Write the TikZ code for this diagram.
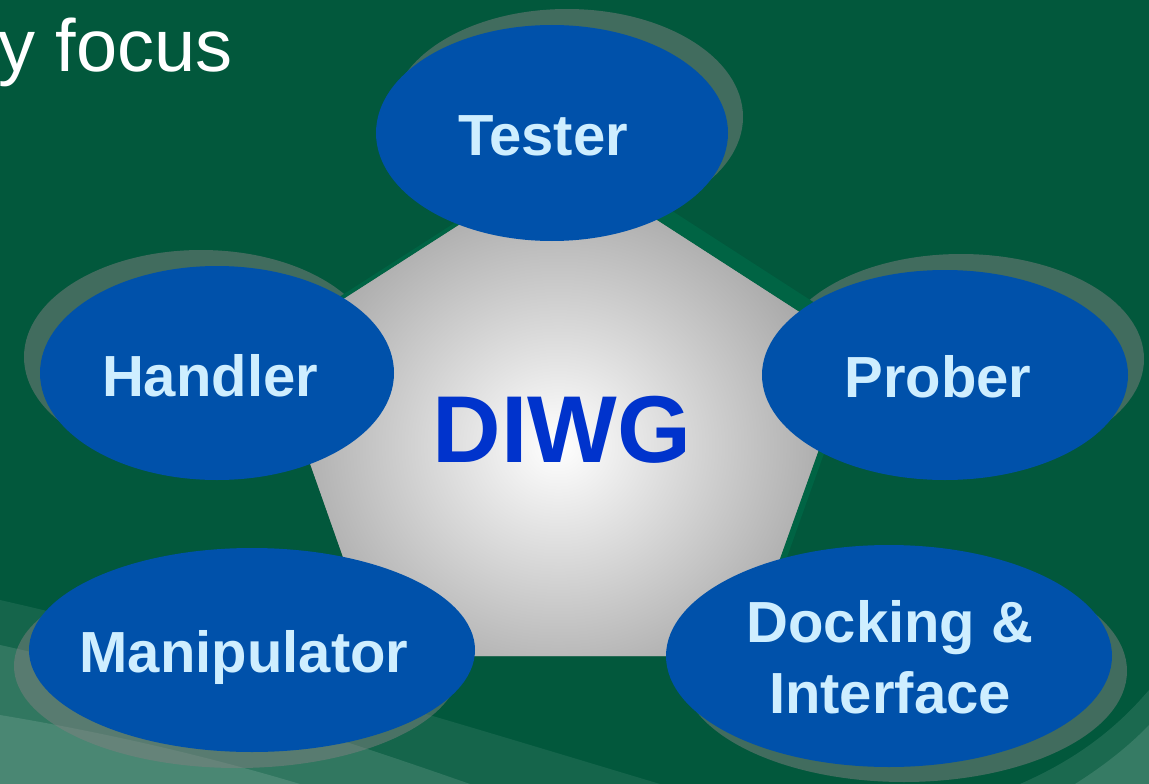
\documentclass[tikz,border=0pt]{standalone}
\usepackage{fontspec}
\setmainfont{Liberation Sans}
\usetikzlibrary{shapes.geometric}
\pgfdeclarelayer{bglayer}
\pgfdeclarelayer{droplayer}
\pgfdeclarelayer{nodelayer}
\pgfsetlayers{bglayer,droplayer,main,nodelayer}
\definecolor{bggreen}{RGB}{2,88,60}
\definecolor{slabgreen}{RGB}{0,100,68}
\definecolor{slabgray}{RGB}{153,153,153}
\definecolor{bubbleblue}{RGB}{0,81,170}
\definecolor{lblblue}{RGB}{206,238,255}
\definecolor{diwgblue}{RGB}{0,51,204}
\definecolor{dropgray}{RGB}{128,128,128}
\tikzstyle{none}=[inner sep=0pt]
\tikzstyle{bubble}=[ellipse,fill=bubbleblue,inner sep=0pt]
\tikzstyle{drop}=[ellipse,fill=dropgray,fill opacity=0.5,inner sep=0pt]
\tikzstyle{lbl}=[inner sep=0pt,anchor=base,text=lblblue,font=\fontsize{58}{71}\selectfont\bfseries]
\def\slab{(562,159) -- (855,348) -- (745,656) -- (378,656) -- (269,347) -- cycle}

\begin{document}
\begin{tikzpicture}[x=1pt,y=-1pt]
	\useasboundingbox (0,0) rectangle (1149,784);
	\begin{pgfonlayer}{bglayer}
		\fill[bggreen] (0,0) rectangle (1149,784);
		% light swoosh, lower corners
		\fill[white,opacity=0.08] (0,600) .. controls (220,650) and (480,730) .. (660,784) -- (0,784) -- cycle;
		\fill[white,opacity=0.12] (0,645) .. controls (160,680) and (330,735) .. (470,784) -- (0,784) -- cycle;
		\fill[white,opacity=0.12] (0,715) .. controls (120,735) and (220,760) .. (300,784) -- (0,784) -- cycle;
		\fill[white,opacity=0.10] (1020,784) .. controls (1075,760) and (1115,730) .. (1149,690) -- (1149,784) -- cycle;
		\fill[white,opacity=0.12] (1075,784) .. controls (1105,765) and (1130,745) .. (1149,725) -- (1149,784) -- cycle;
	\end{pgfonlayer}
	\begin{pgfonlayer}{droplayer}
		\node [style=drop, minimum width=352pt, minimum height=216pt] (1s) at (567,117) {};
		\node [style=drop, minimum width=354pt, minimum height=214pt] (2s) at (201,357) {};
		\node [style=drop, minimum width=366pt, minimum height=210pt] (3s) at (961,359) {};
		\node [style=drop, minimum width=446pt, minimum height=204pt] (4s) at (237,666) {};
		\node [style=drop, minimum width=446pt, minimum height=222pt] (5s) at (904,671) {};
	\end{pgfonlayer}
	% centre pentagon
	\fill[slabgreen,shift={(11,-12)}] \slab;
	\begin{scope}
		\clip \slab;
		\fill[slabgray] (200,100) rectangle (900,700);
		\shade[inner color=white,outer color=slabgray] (558,445) ellipse [x radius=330, y radius=310];
	\end{scope}
	\begin{pgfonlayer}{nodelayer}
		\node [style=none, anchor=base, text=diwgblue, font=\fontsize{95}{100}\selectfont\bfseries] (0) at (562,462) {DIWG};
		\node [style=bubble, minimum width=352pt, minimum height=216pt] (1) at (552,133) {};
		\node [style=bubble, minimum width=354pt, minimum height=214pt] (2) at (217,373) {};
		\node [style=bubble, minimum width=366pt, minimum height=210pt] (3) at (945,375) {};
		\node [style=bubble, minimum width=446pt, minimum height=204pt] (4) at (252,650) {};
		\node [style=bubble, minimum width=446pt, minimum height=222pt] (5) at (889,656) {};
		\node [style=lbl] (1t) at (543,155) {Tester};
		\node [style=lbl] (2t) at (210,396) {Handler};
		\node [style=lbl] (3t) at (938,397) {Prober};
		\node [style=lbl] (4t) at (244,672) {Manipulator};
		\node [style=lbl, align=center] (5t) at (890,713) {Docking \&\\Interface};
		\node [style=none, anchor=base west, text=white, font=\fontsize{74}{80}\selectfont] (6) at (-2,72) {y focus};
	\end{pgfonlayer}
\end{tikzpicture}
\end{document}
